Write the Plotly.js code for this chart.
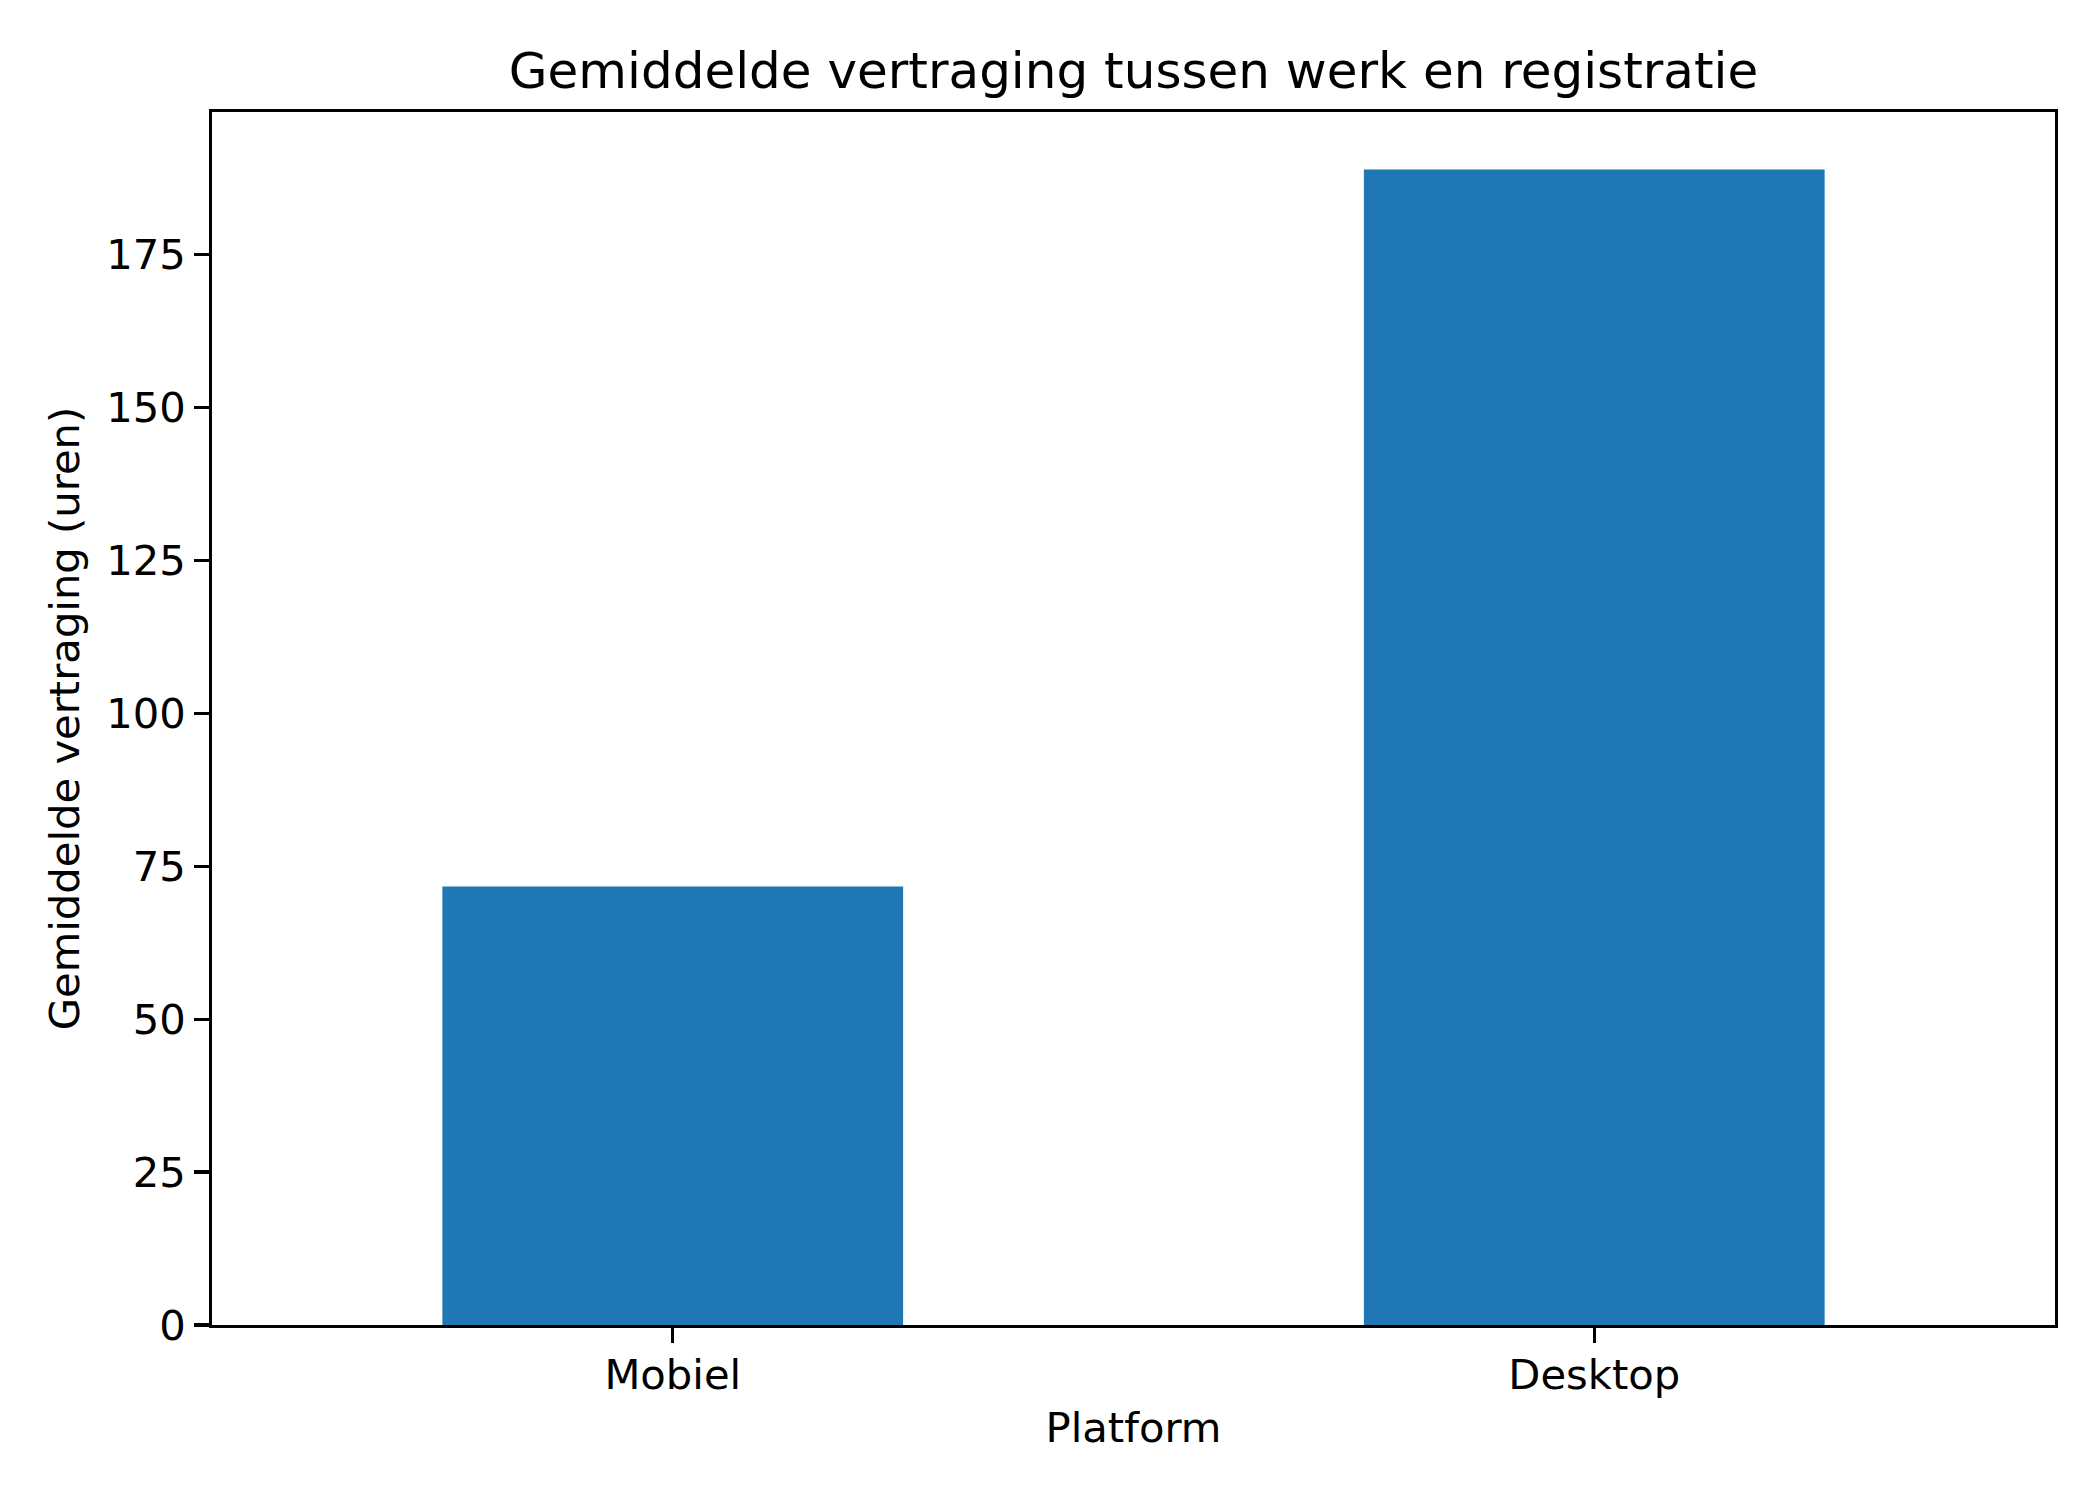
<!DOCTYPE html>
<html>
<head>
<meta charset="utf-8">
<script src="https://cdn.plot.ly/plotly-3.0.1.min.js"></script>
<style>
  html, body { margin: 0; padding: 0; background: #fff; }
  #chart { width: 2100px; height: 1500px; }
</style>
</head>
<body>
<div id="chart"></div>
<script>
// data
const platforms = ["Mobiel", "Desktop"];
const delayHours = [71.7, 188.9];
const yTicks = [0, 25, 50, 75, 100, 125, 150, 175];

const font = "DejaVu Sans, sans-serif";

const trace = {
    x: platforms,
    y: delayHours,
    type: "bar",
    width: 0.5,
    marker: { color: "#1f77b4", line: { width: 0 } },
    hoverinfo: "x+y"
};

const axisLine = {
    showline: true,
    linecolor: "#000",
    linewidth: 3.3,
    mirror: true,
    ticks: "outside",
    ticklen: 14.6,
    tickwidth: 3.3,
    tickcolor: "#000",
    showgrid: false,
    zeroline: false,
    tickfont: { family: font, size: 41.7, color: "#000" }
};

const layout = {
    width: 2100,
    height: 1500,
    paper_bgcolor: "#fff",
    plot_bgcolor: "#fff",
    showlegend: false,
    margin: { l: 212, r: 45, t: 112, b: 175, pad: 0 },
    title: {
        text: "Gemiddelde vertraging tussen werk en registratie",
        font: { family: font, size: 50, color: "#000" },
        x: 0.5, xref: "paper", xanchor: "center",
        y: 1 - 70 / 1500, yref: "container", yanchor: "middle"
    },
    xaxis: Object.assign({}, axisLine, {
        type: "category",
        range: [-0.5, 1.5],
        ticklabelstandoff: -4,
        title: { text: "Platform", font: { family: font, size: 41.7, color: "#000" }, standoff: 16 }
    }),
    yaxis: Object.assign({}, axisLine, {
        range: [0, 198.3],
        tickmode: "array",
        tickvals: yTicks,
        ticktext: yTicks.map(String),
        title: { text: "Gemiddelde vertraging (uren)", font: { family: font, size: 41.7, color: "#000" }, standoff: 14 }
    })
};

Plotly.newPlot("chart", [trace], layout, { responsive: false, displayModeBar: false, staticPlot: true });
</script>
</body>
</html>
